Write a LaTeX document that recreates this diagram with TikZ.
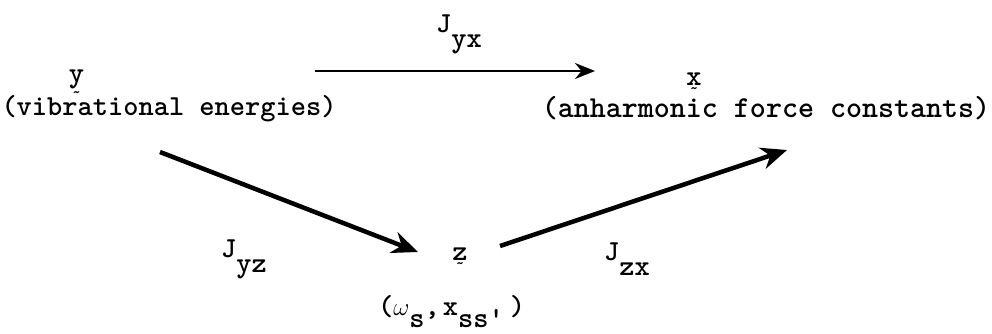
\documentclass[tikz,border=0pt]{standalone}
\usepackage{fontspec}
\usepackage{tikz}
\usetikzlibrary{arrows.meta}
\makeatletter
\newcommand{\tld}[1]{\leavevmode\vtop{\baselineskip\z@skip\lineskip3pt\lineskiplimit\z@
  \ialign{\hfil##\hfil\crcr#1\crcr{\fontsize{16}{16}\selectfont\char"7E}\crcr}}}
\makeatother
\newcommand{\lo}[1]{\raisebox{-15pt}{#1}}
\newcommand{\los}[1]{\raisebox{-12pt}{#1}}
\newcommand{\tw}{\ttfamily\bfseries}

\begin{document}
\begin{tikzpicture}[x=1pt,y=-1pt]
\tikzset{t/.style={font=\tw\fontsize{29}{29}\selectfont,inner sep=0pt,anchor=base west},
  tc/.style={t,anchor=base},
  harrow/.style={line width=2.5pt,-{Stealth[length=20pt,width=16pt]}},
  darrow/.style={line width=4.5pt,-{Stealth[length=26pt,width=22pt]}}}
\useasboundingbox (0,0) rectangle (992,333);

\path (76.5,82) node[tc] (y) {\tld{y}};
\path (694,85) node[tc] (x) {\tld{x}};
\path (460,260) node[tc] (z) {\tld{z}};
\path (169,115) node[tc] (vib) {(vibrational energies)};
\path (766,117) node[tc,font=\tw\fontsize{30.5}{30.5}\selectfont] (anh) {(anharmonic force constants)};
\path (436,32) node[t] (Jyx) {J\lo{yx}};
\path (221,257) node[t] (Jyz) {J\lo{yz}};
\path (604,260) node[t] (Jzx) {J\lo{zx}};
\path (378,315) node[t] (zlab) {(\(\omega\)\los{s},\kern3pt x\los{ss'}\kern6pt)};

\coordinate (yx-a) at (315,71);
\coordinate (yx-b) at (595,71);
\coordinate (yz-a) at (160,152);
\coordinate (yz-b) at (418,252);
\coordinate (zx-a) at (500,246);
\coordinate (zx-b) at (787,150);

\draw[harrow] (yx-a) -- (yx-b);
\draw[darrow] (yz-a) -- (yz-b);
\draw[darrow] (zx-a) -- (zx-b);

\end{tikzpicture}
\end{document}
